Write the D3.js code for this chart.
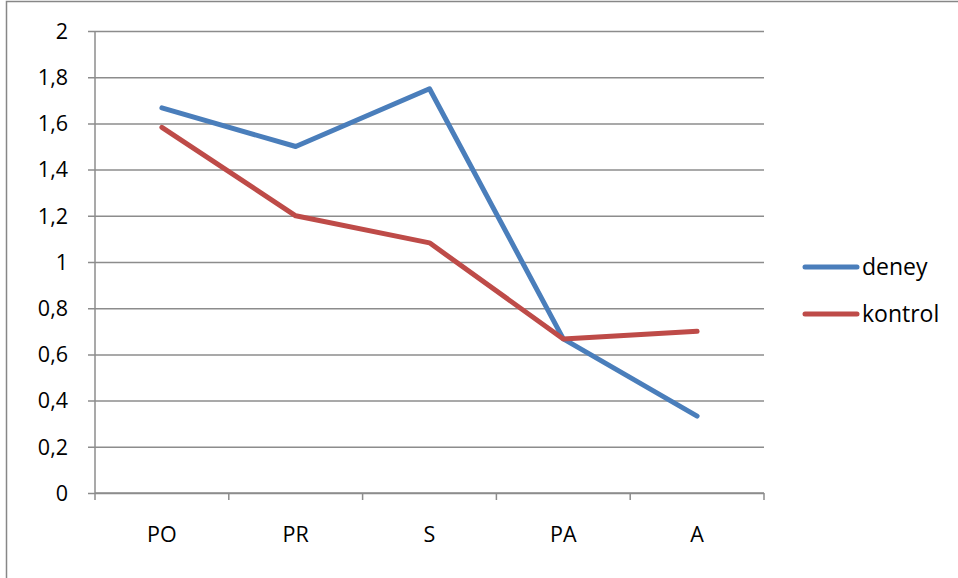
<!DOCTYPE html>
<html>
<head>
<meta charset="utf-8">
<script src="https://cdn.jsdelivr.net/npm/d3@7"></script>
<style>
  html, body { margin: 0; padding: 0; background: #fff; }
  svg { display: block; }
  text { font-family: "Open Sans", "Liberation Sans", sans-serif; fill: #000; }
</style>
</head>
<body>
<svg id="chart" width="958" height="578"></svg>
<script>
const categories = ["PO", "PR", "S", "PA", "A"];
const deney = [1.667, 1.5, 1.75, 0.667, 0.333];
const kontrol = [1.583, 1.2, 1.083, 0.667, 0.7];
const yTicks = [0, 0.2, 0.4, 0.6, 0.8, 1, 1.2, 1.4, 1.6, 1.8, 2];
const seriesNames = ["deney", "kontrol"];
const seriesColors = ["#4a7ebb", "#be4b48"];

const svg = d3.select("#chart");
const plotLeft = 95, plotRight = 764, plotTop = 31, plotBottom = 493;
const fontSize = 21.5;

// outer frame
svg.append("rect")
  .attr("x", 6.5).attr("y", 1.5)
  .attr("width", 1000).attr("height", 1000)
  .attr("fill", "none").attr("stroke", "#878787").attr("stroke-width", 1.5);

const x = d3.scaleBand().domain(categories).range([plotLeft, plotRight]);
const y = d3.scaleLinear().domain([0, 2]).range([plotBottom, plotTop]);

const fmt = v => String(v).replace(".", ",");

// horizontal gridlines with left tick marks
const yAxis = d3.axisLeft(y).tickValues(yTicks).tickFormat(fmt)
  .tickSize(-(plotRight - plotLeft)).tickPadding(0);
const gy = svg.append("g").attr("transform", `translate(${plotLeft},0)`).call(yAxis);
gy.select(".domain").remove();
gy.selectAll(".tick line")
  .attr("x1", -7)
  .attr("stroke", "#8c8c8c").attr("stroke-width", 1.5);
gy.selectAll(".tick text").remove();

// value labels on the left
svg.append("g").selectAll("text").data(yTicks).join("text")
  .attr("x", plotLeft - 27)
  .attr("y", d => y(d))
  .attr("dy", "0.36em")
  .attr("text-anchor", "end")
  .style("font-size", fontSize + "px")
  .text(fmt);

// vertical axis line
svg.append("line")
  .attr("x1", plotLeft).attr("x2", plotLeft).attr("y1", plotTop).attr("y2", plotBottom)
  .attr("stroke", "#8c8c8c").attr("stroke-width", 1.5);

// category axis
const gx = svg.append("g").attr("transform", `translate(0,${plotBottom})`)
  .call(d3.axisBottom(x).tickSize(0).tickPadding(34));
gx.select(".domain")
  .attr("d", `M${plotLeft},0H${plotRight}`)
  .attr("stroke", "#8c8c8c").attr("stroke-width", 1.5);
gx.selectAll(".tick text")
  .style("font-size", fontSize + "px")
  .style("font-family", "'Open Sans', sans-serif");

// category boundary ticks
const bounds = categories.map(c => x(c)).concat([x(categories[categories.length - 1]) + x.bandwidth()]);
svg.append("g").selectAll("line").data(bounds).join("line")
  .attr("x1", d => d).attr("x2", d => d)
  .attr("y1", plotBottom).attr("y2", plotBottom + 7)
  .attr("stroke", "#8c8c8c").attr("stroke-width", 1.5);

// series lines
const line = d3.line()
  .x((d, i) => x(categories[i]) + x.bandwidth() / 2)
  .y(d => y(d));

[deney, kontrol].forEach((vals, i) => {
  svg.append("path")
    .datum(vals)
    .attr("d", line)
    .attr("fill", "none")
    .attr("stroke", seriesColors[i])
    .attr("stroke-width", 5)
    .attr("stroke-linejoin", "round")
    .attr("stroke-linecap", "round");
});

// legend
const legend = svg.append("g");
seriesNames.forEach((name, i) => {
  const ly = 267 + i * 47;
  legend.append("line")
    .attr("x1", 805).attr("x2", 857).attr("y1", ly).attr("y2", ly)
    .attr("stroke", seriesColors[i]).attr("stroke-width", 5)
    .attr("stroke-linecap", "round");
  legend.append("text")
    .attr("x", 862).attr("y", ly).attr("dy", "0.36em")
    .style("font-size", "23px")
    .text(name);
});
</script>
</body>
</html>
